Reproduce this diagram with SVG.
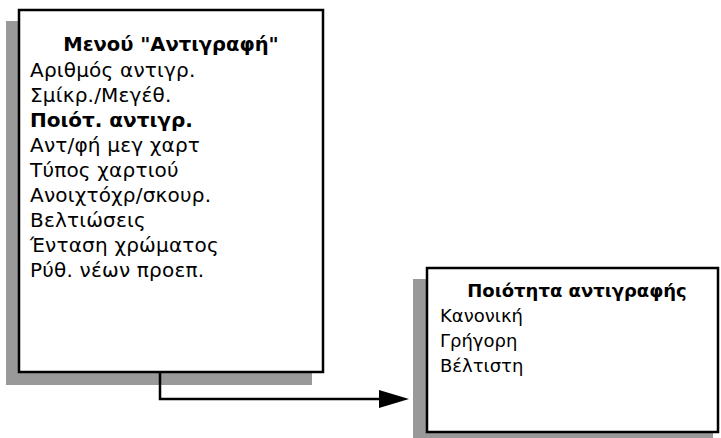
<svg xmlns="http://www.w3.org/2000/svg" width="721" height="438" viewBox="0 0 721 438">
<style>
.shadow{fill:#999999}
.box{fill:#ffffff;stroke:#000000;stroke-width:2.5}
.t{font-family:"DejaVu Sans","Liberation Sans",sans-serif;font-size:18px;fill:#000}
.l{font-size:20px;letter-spacing:0.2px}
.b{font-weight:bold}
.conn{fill:none;stroke:#000;stroke-width:2.5}
</style>
<g id="menu">
<rect class="shadow" x="6" y="21" width="306" height="364"/>
<rect class="box" x="19" y="10" width="304" height="362"/>
<text class="t b" x="171" y="51" text-anchor="middle" style="font-size:19.5px">Μενού "Αντιγραφή"</text>
<text class="t l" x="30" y="77">Αριθμός αντιγρ.</text>
<text class="t l" x="30" y="102">Σμίκρ./Μεγέθ.</text>
<text class="t l b" x="30" y="127" style="letter-spacing:0">Ποιότ. αντιγρ.</text>
<text class="t l" x="30" y="152">Αντ/φή μεγ χαρτ</text>
<text class="t l" x="30" y="177">Τύπος χαρτιού</text>
<text class="t l" x="30" y="202">Ανοιχτόχρ/σκουρ.</text>
<text class="t l" x="30" y="227">Βελτιώσεις</text>
<text class="t l" x="30" y="252">Ένταση χρώματος</text>
<text class="t l" x="30" y="277">Ρύθ. νέων προεπ.</text>
</g>
<g id="connectors">
<path class="conn" d="M160,372 V399 H380"/>
<path d="M379,390 L409,399 L379,408 Z" fill="#000"/>
</g>
<g id="quality">
<rect class="shadow" x="413" y="279" width="300" height="159"/>
<rect class="box" x="427" y="268" width="291" height="164"/>
<text class="t b" x="577" y="297" text-anchor="middle">Ποιότητα αντιγραφής</text>
<text class="t" x="440" y="322">Κανονική</text>
<text class="t" x="440" y="347">Γρήγορη</text>
<text class="t" x="440" y="372">Βέλτιστη</text>
</g>
</svg>
